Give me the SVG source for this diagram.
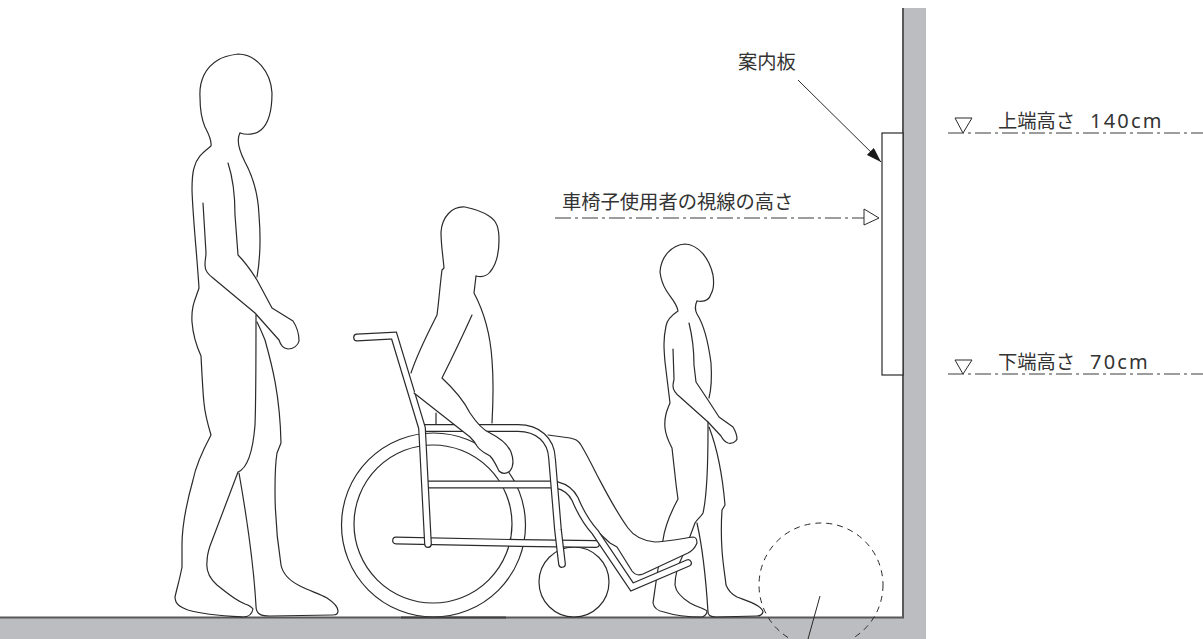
<svg xmlns="http://www.w3.org/2000/svg" xmlns:xlink="http://www.w3.org/1999/xlink" width="1203" height="639" viewBox="0 0 1203 639">
<style>
.f{fill:none;stroke:#2a2a2a;stroke-width:1.2;stroke-linejoin:round;stroke-linecap:round}
.w{fill:#fff;stroke:#2a2a2a;stroke-width:1.2;stroke-linejoin:round;stroke-linecap:round}
.to{fill:none;stroke:#2a2a2a;stroke-width:7.8;stroke-linecap:round;stroke-linejoin:miter}
.ti{fill:none;stroke:#fff;stroke-width:5.4;stroke-linecap:round;stroke-linejoin:miter}
.dd{fill:none;stroke:#3a3a3a;stroke-width:1;stroke-dasharray:16 4 3 4}
.t{font-family:"Noto Sans CJK JP","Noto Sans",sans-serif;font-size:19.3px;font-weight:400;fill:#333}
.n{font-family:"Noto Sans","Noto Sans CJK JP",sans-serif;font-size:20px;font-weight:400;fill:#333;letter-spacing:2.2px}
.tri{fill:#fff;stroke:#2a2a2a;stroke-width:1}
</style>
<defs>
<marker id="ah" markerUnits="userSpaceOnUse" markerWidth="16" markerHeight="10" refX="15" refY="5" orient="auto"><path d="M0 0L15 5L0 10Z" fill="#1a1a1a"/></marker>
<path id="t1" d="M396 540.5L520 543L596 544"/>
<path id="t2" d="M428 484.5H555"/>
<path id="t3" d="M557 485C565 487 571 491 575 499C580 511 586 522 595 532L632 587L688 563"/>
<path id="t4" d="M424 428H518C538 428 551 440 552 458L558 530L562 564"/>
<path id="t5" d="M357 337.5L394 335.5L422 428L428 544"/>
</defs>
<g id="building">
<path d="M904 8H926V639H0V617H904Z" fill="#bcbdc0"/>
<path d="M903 8V617.500H0" fill="none" stroke="#58585a" stroke-width="2"/>
</g>
<g id="sign">
<rect x="882" y="133" width="21" height="242" fill="#fff" stroke="#2a2a2a" stroke-width="1.200"/>
</g>
<g id="adult">
<path class="f" d="M240 133C246 135 255 135 261 130C268 124 272 110 272 93C271 72 256 54 238 54C231 55 224 56 218 60C206 67 199 80 200 97C200 110 202 120 205 127C208 133 212 140 211 146C205 151 197 156 194 168C192 175 192 180 192 190C193 220 197 255 199 288C196 298 191 305 192 322C193 335 196 345 201 356C202 375 203 395 204 403C205 415 208 425 211 435C203 450 196 465 193 480C186 505 182 525 182 545L182 567C180 578 177 588 175 597C175 604 180 607 188 610C205 615 225 616 243 617C248 617 252 614 253 609C251 606 248 605 245 604C235 600 226 592 217 585C209 578 206 570 207 562C207 555 208 552 210 546L238 472C248 468 253 450 255 425C256 400 256 365 256 315"/>
<path class="f" d="M240 133C237 138 238 148 245 162C252 175 258 190 259 215C261 240 260 260 257 277"/>
<path class="f" d="M228 163C233 178 235 195 235 215L238 255C246 263 252 272 257 280L272 308L293 321C297 327 299 333 299 341C298 346 293 349 288 349C283 348 281 346 279 340L255 313L213 278C208 274 205 271 205 265C205 259 206 257 206 253L203 203"/>
<path class="f" d="M257 322C260 328 263 335 265 340C272 365 280 395 281 443L277 453C275 465 275 475 275 490C275 515 277 540 281 565C283 575 290 581 300 586C310 591 320 594 327 598C333 602 338 606 338 611C338 614 336 615 333 615L270 616C262 616 256 615 256 606C254 570 249 530 239 473"/>
</g>
<g id="child">
<path class="f" d="M697 301C703 302 709 301 711 294C714 289 714 282 713 275C709 257 698 245 685 244C672 245 661 256 660 272C661 280 663 285 666 290C670 297 677 303 678 311C672 315 667 319 666 326C663 340 664 350 665 362L670 403C667 410 664 417 665 428C666 437 669 442 672 448L675 475C676 485 677 492 678 499C671 512 665 525 663 540C659 560 656 582 653 603C654 608 658 611 664 612C676 616 690 617 702 617C705 616 707 614 707 611C703 608 697 607 690 603C682 598 676 593 675 585C675 575 678 565 683 555L695 523C698 518 701 517 703 513C706 500 708 480 708 430L708 422"/>
<path class="f" d="M697 301C695 305 695 310 697 314C704 325 708 340 711 363C712 378 711 390 709 398"/>
<path class="f" d="M689 323C692 335 694 350 694 365L696 382C700 388 704 394 708 400L719 417L733 427C736 432 737 436 737 439C736 442 732 444 728 443C725 442 723 440 721 436L708 422L680 397C675 393 673 390 673 386C673 382 674 381 674 379L673 349"/>
<path class="f" d="M709 427C716 445 722 470 725 505L722 510C721 525 721 535 722 550C723 565 725 575 726 585C728 590 731 594 737 597C745 600 752 602 758 606C761 608 763 610 763 612C762 615 760 616 757 616L716 617C711 617 708 615 708 612C706 580 703 550 697 523"/>
</g>
<g id="wheelchair-user">
<circle class="f" cx="433.500" cy="525" r="92"/>
<circle class="f" cx="433" cy="524" r="79"/>
<circle class="f" cx="574" cy="582" r="35"/>
<path d="M401 617.500H506" stroke="#404042" stroke-width="2"/>
<path class="f" d="M476 276C480 277 486 277 490 272C496 265 499 252 499 240C499 228 497 221 489 216C483 212 475 209 465 207C452 206 442 217 441 232C441 245 443 256 444 268L442 270C440 285 439 300 437 315C428 333 418 352 411 373"/>
<path class="f" d="M476 276L474 293C482 308 490 330 492 360C494 385 493 405 492 423"/>
<path class="f" d="M436 413V424"/>
<path class="w" d="M548 435L570 438C575 439 578 440 581 445C587 455 592 465 597 475C605 490 615 510 628 528C635 538 645 541 655 542C665 542 680 539 693 537C696 537 697 540 697 543C695 548 692 551 688 553L643 574C638 576 635 575 632 571L617 547L610 543L588 523"/>
<use href="#t1" class="to"/><use href="#t1" class="ti"/>
<use href="#t2" class="to"/><use href="#t2" class="ti"/>
<use href="#t3" class="to"/><use href="#t3" class="ti"/>
<use href="#t4" class="to"/><use href="#t4" class="ti"/>
<use href="#t5" class="to"/><use href="#t5" class="ti"/>
<path class="w" d="M472 315C463 335 452 358 442 378C455 390 465 403 470 413C476 422 483 430 490 433C500 438 508 445 511 452C514 460 513 467 510 471C506 474 502 474 499 471C496 465 494 460 490 456C485 453 480 451 477 446C475 442 473 440 470 437L414 393"/>
</g>
<g id="connectors">
<path d="M798 80L881 162" fill="none" stroke="#2a2a2a" stroke-width="1" marker-end="url(#ah)"/>
<path class="dd" d="M555 218H864"/>
<path class="tri" d="M864 209L879 218L864 225Z"/>
<path class="dd" d="M948 133H1203"/>
<path class="tri" d="M955 118H972L963 133Z"/>
<path class="dd" d="M948 374H1203"/>
<path class="tri" d="M955 360H972L963 374Z"/>
<circle cx="821" cy="585" r="62" fill="none" stroke="#2a2a2a" stroke-width="1" stroke-dasharray="6 5"/>
<path d="M820 596L808 639" fill="none" stroke="#2a2a2a" stroke-width="1"/>
</g>
<g id="labels">
<text class="t" x="738" y="69">案内板</text>
<text class="t" x="562" y="209">車椅子使用者の視線の高さ</text>
<text class="t" x="998" y="128">上端高さ</text>
<text class="n" x="1090" y="128">140cm</text>
<text class="t" x="998" y="369">下端高さ</text>
<text class="n" x="1090" y="369">70cm</text>
</g>
</svg>
